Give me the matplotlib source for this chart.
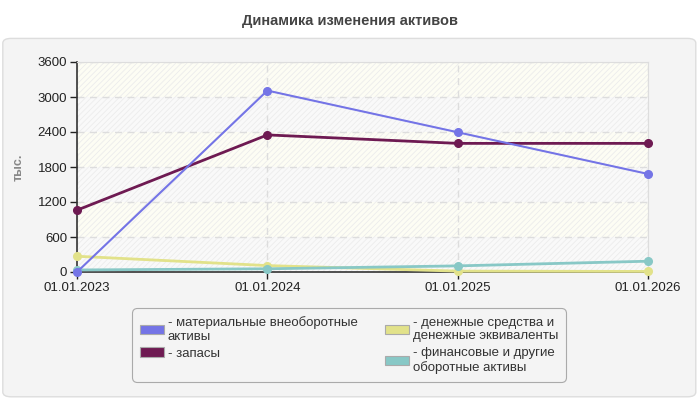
import matplotlib
matplotlib.use("Agg")
import matplotlib.pyplot as plt
from matplotlib.patches import FancyBboxPatch, Patch

plt.rcParams['font.family'] = ['Liberation Sans', 'DejaVu Sans']
plt.rcParams['hatch.linewidth'] = 0.6

dates = ["01.01.2023", "01.01.2024", "01.01.2025", "01.01.2026"]
tangible = [0, 3110, 2395, 1680]
inventory = [1060, 2350, 2205, 2205]
cash = [270, 110, 15, 10]
financial = [35, 55, 105, 185]

series_names = ["- материальные внеоборотные\nактивы", "- запасы",
                "- денежные средства и\nденежные эквиваленты",
                "- финансовые и другие\nоборотные активы"]
colors = ["#7474e6", "#6e1a52", "#e2e28a", "#88c8c6"]
yticks = [0, 600, 1200, 1800, 2400, 3000, 3600]

fig = plt.figure(figsize=(7, 4), dpi=100)
fig.patch.set_facecolor("white")

panel = FancyBboxPatch((0.004, 0.008), 0.99, 0.896, boxstyle="round,pad=0,rounding_size=0.012",
                       transform=fig.transFigure, facecolor="#f4f4f4", edgecolor="#dddddd",
                       linewidth=1, zorder=-10)
fig.patches.append(panel)

fig.text(0.5, 0.948, "Динамика изменения активов", ha="center", va="center",
         fontsize=10.5, fontweight="bold", color="#444444")

ax = fig.add_axes([0.11, 0.32, 0.816, 0.525])
ax.set_facecolor("#fafaf7")
x = list(range(len(dates)))

for i in range(len(yticks) - 1):
    fc = "#fdfdf4" if i % 2 == 1 else "#f9f9f9"
    ax.axhspan(yticks[i], yticks[i + 1], facecolor=fc, edgecolor="#ececec",
               hatch="//////", linewidth=0, zorder=0)

ax.set_xlim(0, 3)
ax.set_ylim(0, 3600)
ax.set_yticks(yticks)
ax.set_xticks(x)
ax.set_xticklabels(dates)
ax.grid(True, color="#dddddd", linestyle=(0, (5, 4)), linewidth=1, zorder=1)

data = [tangible, inventory, cash, financial]
widths = [1.5, 2, 2, 2]
zorders = [5, 4, 3, 3]
for vals, c, lw, z in zip(data, colors, widths, zorders):
    ax.plot(x, vals, color=c, linewidth=lw, marker="o", markersize=5.5, zorder=z, clip_on=False)

for s in ["top", "right"]:
    ax.spines[s].set_color("#dddddd")
for s in ["left", "bottom"]:
    ax.spines[s].set_color("#333333")
    ax.spines[s].set_linewidth(1.2)
ax.tick_params(axis="both", labelsize=9.5, colors="#222222", length=5, width=1)
ax.tick_params(axis="x", pad=2)
ax.tick_params(axis="y", pad=2)

ax.set_ylabel("тыс.", fontsize=9, fontweight="bold", color="#888888")
ax.yaxis.set_label_coords(-0.092, 0.5)

handles = [Patch(facecolor=c, edgecolor="#aaaaaa", linewidth=0.8) for c in colors]
leg = fig.legend(handles, series_names, loc="center", bbox_to_anchor=(0.499, 0.1375),
                 ncol=2, fontsize=9.5, frameon=True, fancybox=True, edgecolor="#aaaaaa",
                 facecolor="#f4f4f4", handlelength=1.8, handleheight=0.7, handletextpad=0.3,
                 columnspacing=2.1, borderpad=0.6, labelspacing=0.35, framealpha=1,
                 labelcolor="#333333")
leg.get_frame().set_linewidth(0.8)
leg.get_frame().set_boxstyle("round,pad=0,rounding_size=0.4")

fig.savefig("out.png", dpi=100)
